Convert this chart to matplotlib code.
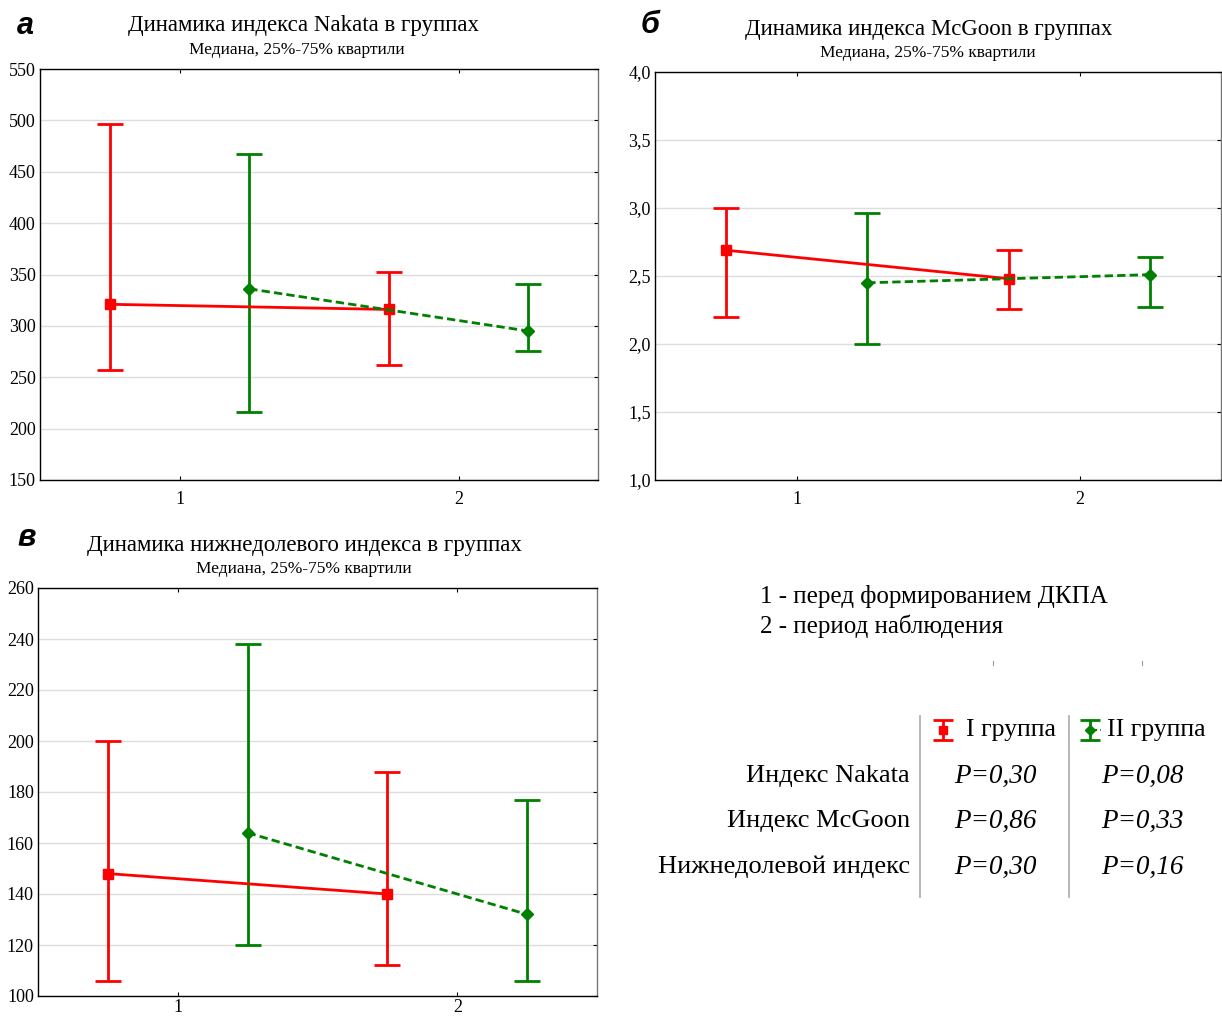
import numpy as np
import matplotlib.pyplot as plt
from matplotlib.ticker import FuncFormatter

plt.rcParams['font.family'] = ['Liberation Serif', 'DejaVu Serif']

# x positions: period 1 and 2, groups shifted left/right
periods = [1, 2]
shift = 0.25

# Nakata index: median, 25%, 75%
nak_red_med = [321, 316]
nak_red_lo = [257, 262]
nak_red_hi = [496, 352]
nak_grn_med = [336, 295]
nak_grn_lo = [216, 276]
nak_grn_hi = [467, 341]

# McGoon index
mcg_red_med = [2.69, 2.48]
mcg_red_lo = [2.20, 2.26]
mcg_red_hi = [3.00, 2.69]
mcg_grn_med = [2.45, 2.51]
mcg_grn_lo = [2.00, 2.27]
mcg_grn_hi = [2.96, 2.64]

# lower lobe index
low_red_med = [148, 140]
low_red_lo = [106, 112]
low_red_hi = [200, 188]
low_grn_med = [164, 132]
low_grn_lo = [120, 106]
low_grn_hi = [238, 177]

row_labels = ['Индекс Nakata', 'Индекс McGoon', 'Нижнедолевой индекс']
p_red = ['P=0,30', 'P=0,86', 'P=0,30']
p_grn = ['P=0,08', 'P=0,33', 'P=0,16']

RED = '#ff0000'
GREEN = '#008000'

W, H = 1222, 1018
fig = plt.figure(figsize=(W / 100, H / 100), dpi=100)


def px_rect(left, top, right, bottom):
    return [left / W, 1 - bottom / H, (right - left) / W, (bottom - top) / H]


def panel(rect, red, grn, ylim, ystep, title, title_cx, letter, letter_xy,
          comma=False, xpad=8):
    ax = fig.add_axes(rect)
    xr = np.array(periods) - shift
    xg = np.array(periods) + shift
    for x, (med, lo, hi), col, mk, ls in [
        (xr, red, RED, 's', '-'),
        (xg, grn, GREEN, 'D', (0, (3, 1.5))),
    ]:
        med = np.array(med)
        err = [med - np.array(lo), np.array(hi) - med]
        ax.errorbar(x, med, yerr=err, fmt='none', ecolor=col, elinewidth=2,
                    capsize=9.5, capthick=2, zorder=3)
        ax.plot(x, med, color=col, lw=2, ls=ls, marker=mk,
                ms=7 if mk == 's' else 6, zorder=4)
    ax.set_xlim(0.5, 2.5)
    ax.set_ylim(*ylim)
    ax.set_xticks(periods)
    ax.set_yticks(np.arange(ylim[0], ylim[1] + ystep / 2, ystep))
    if comma:
        ax.yaxis.set_major_formatter(FuncFormatter(lambda v, p: f'{v:.1f}'.replace('.', ',')))
    ax.grid(axis='y', color='#dddddd', lw=1)
    ax.set_axisbelow(True)
    ax.tick_params(axis='both', labelsize=13, direction='in', length=3,
                   top=True, right=True, left=False, pad=3)
    ax.tick_params(axis='x', pad=xpad)
    for s in ax.spines.values():
        s.set_linewidth(1)
    ax.spines['right'].set_color('#777777')
    # title and subtitle placed in pixels above the axes top
    bb = ax.get_position()
    top_px = (1 - bb.y1) * H
    fig.text(title_cx[0] / W, 1 - (top_px - 43) / H, title,
             ha='center', va='center', fontsize=16.5)
    fig.text(title_cx[1] / W, 1 - (top_px - 19) / H, 'Медиана, 25%-75% квартили',
             ha='center', va='center', fontsize=12.5)
    fig.text(letter_xy[0] / W, 1 - letter_xy[1] / H, letter, fontsize=22,
             family='Liberation Sans', weight='bold', style='italic',
             ha='center', va='center')
    return ax


panel(px_rect(40, 69, 598, 480),
      (nak_red_med, nak_red_lo, nak_red_hi),
      (nak_grn_med, nak_grn_lo, nak_grn_hi),
      (150, 550), 50, 'Динамика индекса Nakata в группах', (304, 297), 'а', (25, 26))
panel(px_rect(655, 72, 1221, 480),
      (mcg_red_med, mcg_red_lo, mcg_red_hi),
      (mcg_grn_med, mcg_grn_lo, mcg_grn_hi),
      (1.0, 4.0), 0.5, 'Динамика индекса McGoon в группах', (929, 928), 'б', (650, 25),
      comma=True)
panel(px_rect(38, 588, 597, 996),
      (low_red_med, low_red_lo, low_red_hi),
      (low_grn_med, low_grn_lo, low_grn_hi),
      (100, 260), 20, 'Динамика нижнедолевого индекса в группах', (304, 304), 'в', (27, 538),
      xpad=2)

# overlay in pixel coordinates for legend / table
ov = fig.add_axes([0, 0, 1, 1])
ov.set_xlim(0, W)
ov.set_ylim(H, 0)
ov.axis('off')

ov.text(760, 597, '1 - перед формированием ДКПА', fontsize=18, va='center')
ov.text(760, 626, '2 - период наблюдения', fontsize=18, va='center')
ov.plot([993, 993], [661, 665], color='#999999', lw=0.8)
ov.plot([1142, 1142], [661, 665], color='#999999', lw=0.8)

for xv in [920, 1069]:
    ov.plot([xv, xv], [716, 897], color='#aaaaaa', lw=1.2)

# header icons
ov.errorbar([943], [730], yerr=[[10], [10]], fmt='s', color=RED, ms=6,
            elinewidth=2, capsize=7, capthick=2)
ov.errorbar([1090], [730], yerr=[[10], [10]], fmt='D', color=GREEN, ms=5,
            elinewidth=2, capsize=7, capthick=2)
ov.plot([1093, 1101], [730, 730], color=GREEN, lw=1.5, ls=(0, (2, 1.5)))
ov.text(966, 730, 'I группа', fontsize=18.5, va='center')
ov.text(1107, 730, 'II группа', fontsize=18.5, va='center')

for i, lab in enumerate(row_labels):
    y = 776 + i * 45.5
    ov.text(910, y, lab, fontsize=19, ha='right', va='center')
    ov.text(995, y, p_red[i], fontsize=19.5, ha='center', va='center', style='italic')
    ov.text(1142, y, p_grn[i], fontsize=19.5, ha='center', va='center', style='italic')

fig.savefig('out.png', dpi=100)
